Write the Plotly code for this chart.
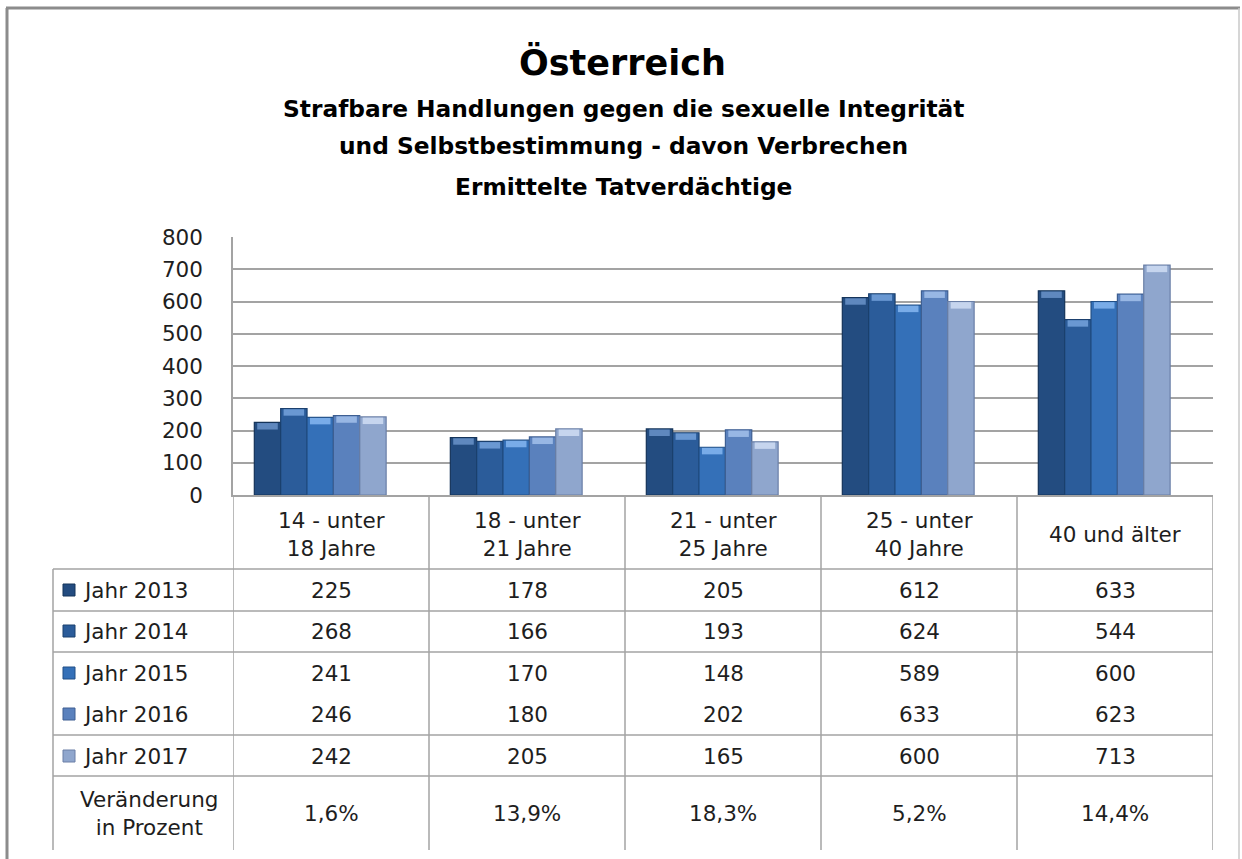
import plotly.graph_objects as go

# ---- data ----
categories = ["14 - unter<br>18 Jahre", "18 - unter<br>21 Jahre", "21 - unter<br>25 Jahre",
              "25 - unter<br>40 Jahre", "40 und älter"]
series_names = ["Jahr 2013", "Jahr 2014", "Jahr 2015", "Jahr 2016", "Jahr 2017"]
v2013 = [225, 178, 205, 612, 633]
v2014 = [268, 166, 193, 624, 544]
v2015 = [241, 170, 148, 589, 600]
v2016 = [246, 180, 202, 633, 623]
v2017 = [242, 205, 165, 600, 713]
change_pct = ["1,6%", "13,9%", "18,3%", "5,2%", "14,4%"]
y_ticks = [0, 100, 200, 300, 400, 500, 600, 700, 800]

series_values = [v2013, v2014, v2015, v2016, v2017]
colors = ["#234C80", "#2B5C9A", "#3470B8", "#5A81BD", "#8FA6CD"]
caps = ["#5F88BE", "#6A98D2", "#79ACE8", "#98B7E4", "#C6D5EE"]
edges = ["#15345A", "#1B406E", "#214F86", "#3E5F92", "#6A7FA6"]

FONT = "DejaVu Sans"
FS = 21.5
W, H = 1242, 859
PL, PR, PT, PB = 233, 1213, 237, 495   # plot area in pixels
GRID = "#A3A3A3"


def px(x):
    return (x - PL) / (PR - PL)


def py(y):
    return (PB - y) / (PB - PT)


fig = go.Figure()
bw = 0.1345
shift = -0.055
xs = list(range(len(categories)))
for i, (name, vals) in enumerate(zip(series_names, series_values)):
    off = shift - 2.5 * bw + i * bw
    fig.add_trace(go.Bar(
        x=xs, y=vals, name=name, width=bw, offset=off,
        marker=dict(color=colors[i], line=dict(color=edges[i], width=1.2)),
        showlegend=False,
    ))
    # bevelled top of each column
    fig.add_trace(go.Bar(
        x=xs, y=[20] * len(vals), base=[v - 22 for v in vals], width=bw * 0.78,
        offset=off + bw * 0.11, marker=dict(color=caps[i], line=dict(width=0)),
        showlegend=False, hoverinfo="skip",
    ))

shapes = []
line = dict(color=GRID, width=1.5)
# table vertical lines (category boundaries)
for k in range(len(categories) + 1):
    xb = k - 0.5
    shapes.append(dict(type="line", xref="x", yref="paper", x0=xb, x1=xb,
                       y0=py(495), y1=py(850), line=line))
# table left edge
shapes.append(dict(type="line", xref="paper", yref="paper", x0=px(53), x1=px(53),
                   y0=py(569), y1=py(850), line=line))
# table horizontal lines
for yl in [569, 611, 652, 735, 776]:
    shapes.append(dict(type="line", xref="paper", yref="paper", x0=px(53), x1=px(PR),
                       y0=py(yl), y1=py(yl), line=line))
# outer frame
shapes.append(dict(type="line", xref="paper", yref="paper", x0=px(6), x1=px(1240),
                   y0=py(8), y1=py(8), line=dict(color="#8C8C8C", width=3)))
shapes.append(dict(type="line", xref="paper", yref="paper", x0=px(7), x1=px(7),
                   y0=py(8), y1=py(862), line=dict(color="#8C8C8C", width=3)))
shapes.append(dict(type="line", xref="paper", yref="paper", x0=px(1239), x1=px(1239),
                   y0=py(8), y1=py(862), line=dict(color="#C8C8C8", width=1.5)))

annotations = []
TXT = "#1E1E1E"


def note(text, x, y, size=FS, xref="paper", xanchor="center", color=TXT, align="center"):
    annotations.append(dict(text=text, xref=xref, yref="paper", x=x, y=y,
                            xanchor=xanchor, yanchor="middle", showarrow=False,
                            align=align, font=dict(family=FONT, size=size, color=color)))


# titles
note("<b>Österreich</b>", px(622), py(63), size=35, color="#000")
for t, yy in [("Strafbare Handlungen gegen die sexuelle Integrität", 108),
              ("und Selbstbestimmung - davon Verbrechen", 145),
              ("Ermittelte Tatverdächtige", 186)]:
    note("<b>" + t + "</b>", px(623), py(yy), size=23.3, color="#000")

# category row
for i, c in enumerate(categories):
    note(c, i, py(534), xref="x")

# series rows
row_y = [590, 631, 673, 714, 756]
for i, (name, vals) in enumerate(zip(series_names, series_values)):
    yy = row_y[i]
    shapes.append(dict(type="rect", xref="paper", yref="paper",
                       x0=px(63), x1=px(75), y0=py(yy - 6), y1=py(yy + 6),
                       fillcolor=colors[i], line=dict(color=edges[i], width=1)))
    note(name, px(81), py(yy), xanchor="left")
    for j, v in enumerate(vals):
        note(str(v), j, py(yy), xref="x")

note("Veränderung<br>in Prozent", px(149), py(813))
for j, p in enumerate(change_pct):
    note(p, j, py(813), xref="x")

fig.update_layout(
    width=W, height=H,
    margin=dict(l=PL, r=W - PR, t=PT, b=H - PB, pad=0),
    paper_bgcolor="white", plot_bgcolor="white",
    barmode="overlay",
    shapes=shapes, annotations=annotations,
    xaxis=dict(range=[-0.5, len(categories) - 0.5], showticklabels=False,
               showgrid=False, zeroline=False, showline=True, linecolor=GRID,
               linewidth=1.5, fixedrange=True),
    yaxis=dict(range=[0, 800], tickvals=y_ticks, showgrid=True, gridcolor=GRID,
               gridwidth=1.5, zeroline=False, showline=True, linecolor=GRID,
               linewidth=1.5, ticks="", ticklabelstandoff=24,
               tickfont=dict(family=FONT, size=FS, color=TXT), fixedrange=True),
    font=dict(family=FONT),
)

fig.write_html("out.html")
